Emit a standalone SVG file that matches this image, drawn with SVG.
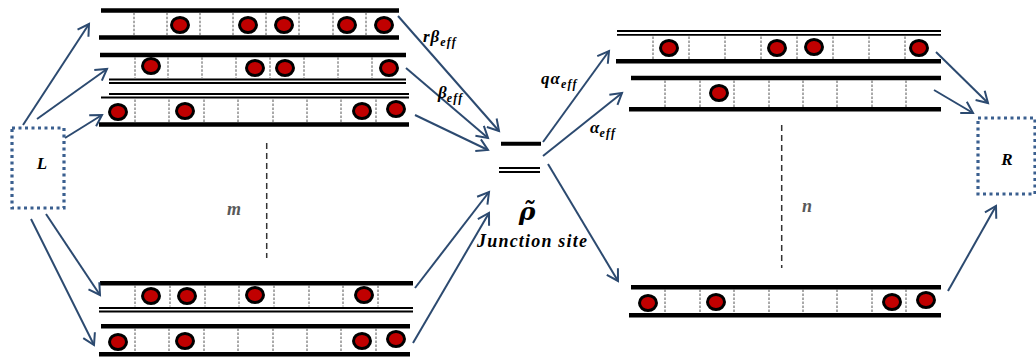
<svg xmlns="http://www.w3.org/2000/svg" width="1036" height="359" viewBox="0 0 1036 359">
<style>
.bar{stroke:#000;stroke-width:4.6;fill:none}
.thin{stroke:#000;stroke-width:1.8;fill:none}
.div{stroke:#555;stroke-width:1;stroke-dasharray:2.5 1.5;fill:none}
.p{fill:#c00000;stroke:#000;stroke-width:3}
.arr{stroke:#2c4a70;stroke-width:2;fill:none;marker-end:url(#ah)}
.box{fill:none;stroke:#3a5f8f;stroke-width:3.2;stroke-dasharray:3 3.5}
.vd{stroke:#333;stroke-width:1.5;stroke-dasharray:6 4;fill:none}
.t{font-family:"Liberation Serif","DejaVu Serif",serif;font-weight:bold;font-style:italic;fill:#000}
.g{fill:#595959}
.sub{font-size:12px;letter-spacing:1.2px}
</style>
<defs>
<marker id="ah" markerUnits="userSpaceOnUse" viewBox="-14 -9 16 18" refX="0" refY="0" markerWidth="16" markerHeight="18" orient="auto" overflow="visible">
<path d="M-11,-6.5 L0,0 L-11,6.5" fill="none" stroke="#2c4a70" stroke-width="2"/>
</marker>
</defs>

<g id="L">
<rect class="box" x="12" y="128" width="52" height="80"/>
<text class="t" x="42" y="169" font-size="17" text-anchor="middle">L</text>
</g>
<g id="R">
<rect class="box" x="978" y="118" width="57" height="76"/>
<text class="t" x="1007" y="165" font-size="17" text-anchor="middle">R</text>
</g>

<g id="lane-L1">
<line class="bar" x1="101" y1="10.5" x2="399" y2="10.5"/>
<line class="bar" x1="99" y1="37.5" x2="399" y2="37.5"/>
<path class="div" d="M134,12.7V35.3M167,12.7V35.3M200,12.7V35.3M233,12.7V35.3M266,12.7V35.3M299,12.7V35.3M333,12.7V35.3M366,12.7V35.3"/>
<ellipse class="p" cx="180" cy="25" rx="8.5" ry="7.5"/><ellipse class="p" cx="248" cy="25" rx="8.5" ry="7.5"/><ellipse class="p" cx="284" cy="25" rx="8.5" ry="7.5"/><ellipse class="p" cx="347" cy="25" rx="8.5" ry="7.5"/><ellipse class="p" cx="384" cy="25" rx="8.5" ry="7.5"/>
</g>
<g id="lane-L2">
<line class="bar" x1="100" y1="55" x2="406" y2="55"/>
<line class="thin" x1="109" y1="79.5" x2="406" y2="79.5"/>
<line class="thin" x1="109" y1="83" x2="406" y2="83"/>
<path class="div" d="M135,57.3V78M168,57.3V78M202,57.3V78M236,57.3V78M270,57.3V78M304,57.3V78M338,57.3V78M372,57.3V78"/>
<ellipse class="p" cx="151" cy="66" rx="8.5" ry="7.5"/><ellipse class="p" cx="255" cy="68" rx="8.5" ry="7.5"/><ellipse class="p" cx="285" cy="68" rx="8.5" ry="7.5"/><ellipse class="p" cx="389" cy="68" rx="8.5" ry="7.5"/>
</g>
<g id="lane-L3">
<line class="thin" x1="109" y1="94" x2="409" y2="94"/>
<line class="thin" x1="101" y1="97.5" x2="409" y2="97.5"/>
<line class="bar" x1="99" y1="124.5" x2="409" y2="124.5"/>
<path class="div" d="M135,99.5V122M169,99.5V122M204,99.5V122M238,99.5V122M273,99.5V122M307,99.5V122M341,99.5V122M376,99.5V122"/>
<ellipse class="p" cx="118" cy="112" rx="8.5" ry="7.5"/><ellipse class="p" cx="185" cy="111" rx="8.5" ry="7.5"/><ellipse class="p" cx="362" cy="111" rx="8.5" ry="7.5"/><ellipse class="p" cx="396" cy="109" rx="8.5" ry="7.5"/>
</g>
<g id="lane-L4">
<line class="bar" x1="100" y1="283.3" x2="413" y2="283.3"/>
<line class="thin" x1="99" y1="308" x2="413" y2="308"/>
<line class="thin" x1="99" y1="311.5" x2="413" y2="311.5"/>
<path class="div" d="M135,285.5V306.5M170,285.5V306.5M205,285.5V306.5M239,285.5V306.5M274,285.5V306.5M309,285.5V306.5M343,285.5V306.5M378,285.5V306.5"/>
<ellipse class="p" cx="151" cy="296" rx="8.5" ry="7.5"/><ellipse class="p" cx="187" cy="296" rx="8.5" ry="7.5"/><ellipse class="p" cx="255" cy="295" rx="8.5" ry="7.5"/><ellipse class="p" cx="364" cy="295" rx="8.5" ry="7.5"/>
</g>
<g id="lane-L5">
<line class="bar" x1="101" y1="326.3" x2="410" y2="326.3"/>
<line class="bar" x1="99" y1="354.3" x2="410" y2="354.3"/>
<path class="div" d="M135,328.5V352M169,328.5V352M204,328.5V352M238,328.5V352M273,328.5V352M307,328.5V352M341,328.5V352M376,328.5V352"/>
<ellipse class="p" cx="118" cy="342" rx="8.5" ry="7.5"/><ellipse class="p" cx="185" cy="341" rx="8.5" ry="7.5"/><ellipse class="p" cx="362" cy="341" rx="8.5" ry="7.5"/><ellipse class="p" cx="396" cy="339" rx="8.5" ry="7.5"/>
</g>
<g id="lane-R1">
<line class="thin" x1="617" y1="31" x2="941" y2="31"/>
<line class="thin" x1="617" y1="34.8" x2="941" y2="34.8"/>
<line class="bar" x1="616" y1="61.3" x2="941" y2="61.3"/>
<path class="div" d="M653,36.5V59M689,36.5V59M725,36.5V59M761,36.5V59M797,36.5V59M833,36.5V59M869,36.5V59M905,36.5V59"/>
<ellipse class="p" cx="669" cy="48" rx="8.5" ry="7.5"/><ellipse class="p" cx="777" cy="48" rx="8.5" ry="7.5"/><ellipse class="p" cx="814" cy="47" rx="8.5" ry="7.5"/><ellipse class="p" cx="919" cy="48" rx="8.5" ry="7.5"/>
</g>
<g id="lane-R2">
<line class="bar" x1="631" y1="78" x2="941" y2="78"/>
<line class="bar" x1="629" y1="109.3" x2="941" y2="109.3"/>
<path class="div" d="M665,80.5V107M700,80.5V107M734,80.5V107M769,80.5V107M803,80.5V107M837,80.5V107M872,80.5V107M906,80.5V107"/>
<ellipse class="p" cx="719" cy="93" rx="8.5" ry="7.5"/>
</g>
<g id="lane-R3">
<line class="bar" x1="631" y1="287.3" x2="941" y2="287.3"/>
<line class="bar" x1="629" y1="315.3" x2="941" y2="315.3"/>
<path class="div" d="M665,289.5V313M700,289.5V313M734,289.5V313M769,289.5V313M803,289.5V313M837,289.5V313M872,289.5V313M906,289.5V313"/>
<ellipse class="p" cx="648" cy="303" rx="8.5" ry="7.5"/><ellipse class="p" cx="716" cy="302" rx="8.5" ry="7.5"/><ellipse class="p" cx="892" cy="302" rx="8.5" ry="7.5"/><ellipse class="p" cx="926" cy="300" rx="8.5" ry="7.5"/>
</g>

<g id="junction">
<line class="bar" x1="501" y1="143.7" x2="541" y2="143.7" style="stroke-width:4"/>
<line class="thin" x1="499" y1="168" x2="540" y2="168"/>
<line class="thin" x1="499" y1="172" x2="540" y2="172"/>
<text class="t" x="527" y="220" font-size="25" text-anchor="middle" style="font-family:'DejaVu Serif',serif">ρ̃</text>
<text class="t" x="477" y="247" font-size="18" textLength="110" lengthAdjust="spacing">Junction site</text>
</g>

<g id="m-ellipsis">
<line class="vd" x1="266.7" y1="143" x2="266.7" y2="258"/>
<text class="t g" x="234" y="215" font-size="18" text-anchor="middle">m</text>
</g>
<g id="n-ellipsis">
<line class="vd" x1="781.7" y1="125" x2="781.7" y2="268"/>
<text class="t g" x="807" y="212" font-size="18" text-anchor="middle">n</text>
</g>

<g id="connectors">
<line class="arr" x1="23" y1="125" x2="89" y2="24"/>
<line class="arr" x1="37" y1="119" x2="107" y2="69"/>
<line class="arr" x1="65" y1="138" x2="102" y2="115"/>
<line class="arr" x1="46" y1="214" x2="100" y2="295"/>
<line class="arr" x1="31" y1="219" x2="94" y2="345"/>
<line class="arr" x1="398" y1="16" x2="499" y2="131"/>
<line class="arr" x1="406" y1="68" x2="488" y2="138"/>
<line class="arr" x1="415" y1="115" x2="488" y2="150"/>
<line class="arr" x1="415" y1="288" x2="489" y2="192"/>
<line class="arr" x1="413" y1="343" x2="489" y2="213"/>
<line class="arr" x1="543" y1="142" x2="609" y2="51"/>
<line class="arr" x1="543" y1="156" x2="622" y2="93"/>
<line class="arr" x1="548" y1="164" x2="618" y2="281"/>
<line class="arr" x1="936" y1="52" x2="988" y2="103"/>
<line class="arr" x1="934" y1="90" x2="973" y2="113"/>
<line class="arr" x1="948" y1="291" x2="996" y2="206"/>
</g>

<g id="labels">
<text class="t" x="423" y="42" font-size="17" letter-spacing="1">rβ<tspan class="sub" dy="4">eff</tspan></text>
<text class="t" x="438" y="98" font-size="17">β<tspan class="sub" dy="4">eff</tspan></text>
<text class="t" x="541" y="84" font-size="17" letter-spacing="1">qα<tspan class="sub" dy="4">eff</tspan></text>
<text class="t" x="590" y="133" font-size="17">α<tspan class="sub" dy="4">eff</tspan></text>
</g>
</svg>
